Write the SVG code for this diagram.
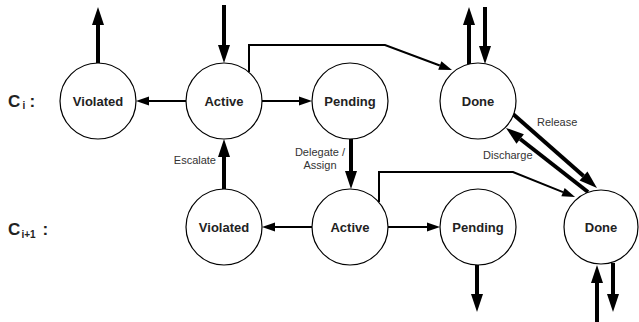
<svg xmlns="http://www.w3.org/2000/svg" width="639" height="322" viewBox="0 0 639 322">
<style>
.node circle{fill:#fff;stroke:#000;stroke-width:1.2}
.node text{font-family:"Liberation Sans",Arial,sans-serif;font-weight:bold;font-size:13px;fill:#222;text-anchor:middle}
.thick{stroke:#000;stroke-width:4;fill:none;marker-end:url(#hb)}
.thin{stroke:#000;stroke-width:2;fill:none;marker-end:url(#hs)}
.lbl{font-family:"Liberation Sans",Arial,sans-serif;font-size:11px;fill:#333}
.ci{font-family:"Liberation Sans",Arial,sans-serif;font-weight:bold;font-size:17px;fill:#222}
.sub{font-family:"Liberation Sans",Arial,sans-serif;font-weight:bold;font-size:10px;fill:#222}
</style>
<defs>
<marker id="hb" markerUnits="userSpaceOnUse" markerWidth="18" markerHeight="12" refX="0" refY="6" orient="auto" overflow="visible"><path d="M0,0 L18,6 L0,12 z" fill="#000"/></marker>
<marker id="hs" markerUnits="userSpaceOnUse" markerWidth="13" markerHeight="9" refX="0" refY="4.5" orient="auto" overflow="visible"><path d="M0,0 L13,4.5 L0,9 z" fill="#000"/></marker>
</defs>
<rect width="639" height="322" fill="#fff"/>
<g id="row-labels">
<text class="ci" x="8" y="107">C</text><text class="sub" x="22.5" y="109">i</text><text class="ci" x="29.5" y="107">:</text>
<text class="ci" x="8" y="235">C</text><text class="sub" x="21.5" y="238">i+1</text><text class="ci" x="42.5" y="235">:</text>
</g>
<g id="connectors">
<path class="thick" d="M98,63 L98,25"/>
<path class="thick" d="M224,5 L224,45"/>
<path class="thick" d="M469,64 L469,25"/>
<path class="thick" d="M485,7 L485,46"/>
<path class="thick" d="M224,189 L224,157"/>
<path class="thick" d="M351,139 L351,171"/>
<path class="thick" d="M477,265 L477,294"/>
<path class="thick" d="M597,322 L597,283"/>
<path class="thick" d="M613,263 L613,294"/>
<path class="thick" d="M513,114 L583.5,176.1"/>
<path class="thick" d="M588,192 L520.2,139"/>
<path class="thin" d="M186,101 L149,101"/>
<path class="thin" d="M262,101 L299,101"/>
<path class="thin" d="M312,227 L275,227"/>
<path class="thin" d="M388,227 L427,227"/>
<path class="thin" d="M249,72 L249,45 L385,45 L439.8,65.5"/>
<path class="thin" d="M379,202 L379,172 L513,172 L563,192.1"/>
<text class="lbl" x="537" y="126">Release</text>
<text class="lbl" x="483" y="159">Discharge</text>
<text class="lbl" x="216" y="164" text-anchor="end">Escalate</text>
<text class="lbl" x="320" y="156" text-anchor="middle">Delegate /</text>
<text class="lbl" x="320" y="168.5" text-anchor="middle">Assign</text>
</g>
<g id="violated-i" class="node"><circle cx="98" cy="101" r="38"/><text x="98" y="105.5">Violated</text></g>
<g id="active-i" class="node"><circle cx="224" cy="101" r="38"/><text x="224" y="105.5">Active</text></g>
<g id="pending-i" class="node"><circle cx="350" cy="101" r="38"/><text x="350" y="105.5">Pending</text></g>
<g id="done-i" class="node"><circle cx="478" cy="101" r="38"/><text x="478" y="105.5">Done</text></g>
<g id="violated-i1" class="node"><circle cx="224" cy="227" r="38"/><text x="224" y="231.5">Violated</text></g>
<g id="active-i1" class="node"><circle cx="350" cy="227" r="38"/><text x="350" y="231.5">Active</text></g>
<g id="pending-i1" class="node"><circle cx="478" cy="227" r="38"/><text x="478" y="231.5">Pending</text></g>
<g id="done-i1" class="node"><circle cx="601" cy="227" r="37"/><text x="601" y="231.5">Done</text></g>
</svg>
